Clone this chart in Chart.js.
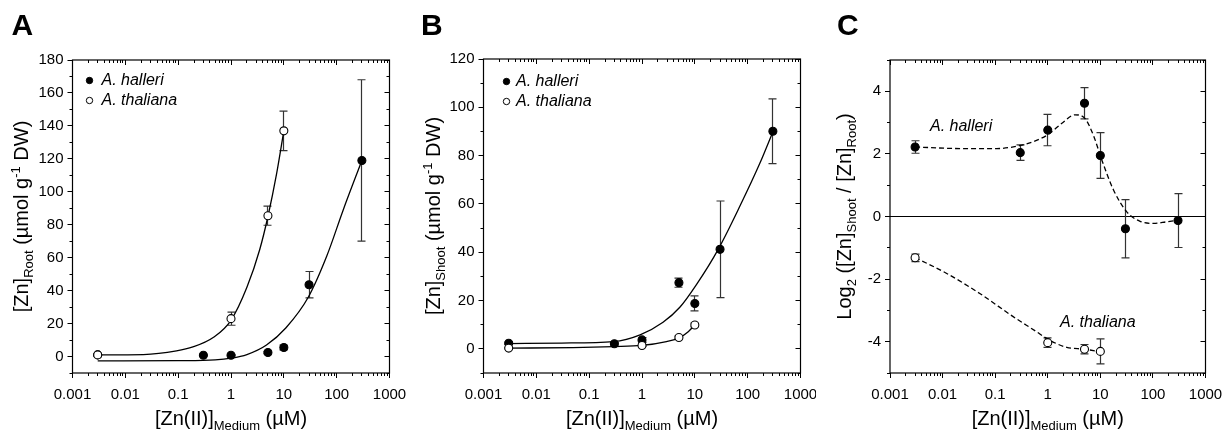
<!DOCTYPE html>
<html>
<head>
<meta charset="utf-8">
<script src="https://cdn.jsdelivr.net/npm/chart.js@4.4.1/dist/chart.umd.min.js"></script>
<style>
  html, body { margin: 0; padding: 0; background: #fff; }
  #wrap { position: relative; width: 1225px; height: 437px; overflow: hidden; }
  canvas { position: absolute; top: 0; }
</style>
</head>
<body>
<div id="wrap">
  <canvas id="chartA" width="408" height="437" style="left:0"></canvas>
  <canvas id="chartB" width="408" height="437" style="left:408px"></canvas>
  <canvas id="chartC" width="409" height="437" style="left:816px"></canvas>
</div>
<script>
// Zn concentrations in the medium (uM)
const conc = [0.003, 0.3, 1, 5, 10, 30, 300];
const concThal = [0.003, 1, 5, 10];

// A: [Zn] root
const rootHal = [1.0, 0.8, 0.8, 2.4, 5.5, 43.6, 119];
const rootHalErr = [0.3, 0.4, 0.4, 0.6, 1.5, 8, 49];
const rootThal = [1.0, 23, 85.5, 137];
const rootThalErr = [0.4, 4, 5.8, 12];
const rootHalFitX = [0.003, 0.1, 0.5, 1, 2, 4.7, 11, 29, 65, 133, 300];
const rootHalFitY = [-2.7, -2.5, -2.0, -1.0, 1.2, 7, 17.5, 36, 61, 89, 119];
const rootThalFitX = [0.003, 0.022, 0.093, 0.19, 0.46, 1, 2, 3.5, 5, 7.3, 10];
const rootThalFitY = [1, 1.2, 3.4, 5.8, 11.5, 22, 42, 65, 85, 111, 137];

// B: [Zn] shoot
const shootHal = [2.3, 2.1, 3.7, 27.4, 18.8, 41.2, 90.1];
const shootHalErr = [0.5, 0.5, 1, 1.9, 3.1, 20, 13.4];
const shootThal = [0.3, 1.4, 4.7, 9.9];
const shootThalErr = [0.3, 0.4, 0.6, 0.8];
const shootHalFitX = [0.003, 0.03, 0.29, 0.92, 2.5, 5.2, 10.8, 27.7, 71, 170, 302];
const shootHalFitY = [2.2, 2.4, 3.0, 5.8, 11, 17.2, 26.7, 41.2, 59, 76.8, 90];
const shootThalFitX = [0.003, 0.05, 0.29, 1, 2.9, 5, 7.5, 10];
const shootThalFitY = [0.3, 0.5, 0.9, 1.4, 3.0, 4.5, 7.1, 9.9];

// C: log2 shoot/root
const ratioHal = [2.22, 2.04, 2.76, 3.62, 1.95, -0.39, -0.13];
const ratioHalErr = [0.2, 0.25, 0.5, 0.5, 0.73, 0.93, 0.86];
const ratioThal = [-1.32, -4.03, -4.24, -4.31];
const ratioThalErr = [0.12, 0.15, 0.15, 0.4];
const ratioHalFitX = [0.003, 0.025, 0.107, 0.3, 0.61, 1.02, 1.83, 3.3, 5.1, 7.4, 10.7, 17.9, 31.8, 56, 102, 182, 302];
const ratioHalFitY = [2.22, 2.17, 2.17, 2.27, 2.43, 2.62, 2.97, 3.25, 3.13, 2.59, 1.80, 0.84, 0.15, -0.15, -0.22, -0.17, -0.12];
const ratioThalFitX = [0.003, 0.012, 0.051, 0.22, 0.61, 1, 2.3, 5, 10];
const ratioThalFitY = [-1.31, -1.82, -2.46, -3.20, -3.68, -3.92, -4.18, -4.24, -4.32];

// tick labels
const xMajor = [0.001, 0.01, 0.1, 1, 10, 100, 1000];
const xMajorLabels = ['0.001', '0.01', '0.1', '1', '10', '100', '1000'];
const rootTicks = [0, 20, 40, 60, 80, 100, 120, 140, 160, 180];
const shootTicks = [0, 20, 40, 60, 80, 100, 120];
const ratioTicks = [-4, -2, 0, 2, 4];

const FONT = "'Liberation Sans', Arial, Helvetica, sans-serif";

function xTickList() {
  const out = [];
  for (let d = 0; d < xMajor.length - 1; d++) {
    for (let m = 1; m <= 9; m++) {
      out.push({ value: parseFloat((m * xMajor[d]).toPrecision(6)), major: m === 1 });
    }
  }
  out.push({ value: xMajor[xMajor.length - 1], major: true });
  return out;
}

function yTickList(min, max, step, majors) {
  const out = [];
  for (let v = min; v <= max + 1e-9; v += step) {
    out.push({ value: v, major: majors.includes(v) });
  }
  return out;
}

function pointSet(label, xs, ys, errs, filled, order) {
  return {
    label: label,
    data: xs.map((x, i) => ({ x: x, y: ys[i] })),
    errors: errs,
    showLine: false,
    pointStyle: 'circle',
    pointRadius: 4,
    pointBackgroundColor: filled ? '#000' : '#fff',
    pointBorderColor: '#000',
    pointBorderWidth: 1.1,
    order: order
  };
}

function fitSet(xs, ys, dashed) {
  return {
    label: 'fit',
    data: xs.map((x, i) => ({ x: x, y: ys[i] })),
    showLine: true,
    pointRadius: 0,
    borderColor: '#000',
    borderWidth: 1.3,
    borderDash: dashed ? [5, 3] : [],
    cubicInterpolationMode: 'monotone',
    fill: false,
    order: 5
  };
}

// draw text made of normal / sub / sup parts
function richText(ctx, parts, x, y, align) {
  let w = 0;
  const segs = parts.map(([t, k]) => {
    ctx.font = (k ? '13px ' : '20px ') + FONT;
    const sw = ctx.measureText(t).width;
    w += sw;
    return { t, k, sw };
  });
  let cx = align === 'center' ? x - w / 2 : x;
  segs.forEach(s => {
    ctx.font = (s.k ? '13px ' : '20px ') + FONT;
    const dy = s.k === 'sub' ? 5 : s.k === 'sup' ? -8 : 0;
    ctx.fillText(s.t, cx, y + dy);
    cx += s.sw;
  });
}

const crisp = v => Math.round(v - 0.5) + 0.5;

const decor = {
  id: 'decor',
  beforeDatasetsDraw(chart, args, o) {
    const { ctx, chartArea: a } = chart;
    const y = chart.scales.y;
    ctx.save();
    if (o.zeroLine) {
      const py = crisp(y.getPixelForValue(0));
      ctx.strokeStyle = '#000';
      ctx.lineWidth = 1;
      ctx.beginPath();
      ctx.moveTo(a.left, py);
      ctx.lineTo(a.right, py);
      ctx.stroke();
    }
    // error bars
    ctx.strokeStyle = '#333';
    ctx.lineWidth = 1.2;
    chart.data.datasets.forEach((ds, i) => {
      if (!ds.errors) return;
      const meta = chart.getDatasetMeta(i);
      ds.data.forEach((p, j) => {
        const px = crisp(meta.data[j].x);
        const t = y.getPixelForValue(p.y + ds.errors[j]);
        const b = y.getPixelForValue(p.y - ds.errors[j]);
        ctx.beginPath();
        ctx.moveTo(px, t); ctx.lineTo(px, b);
        ctx.moveTo(px - 4, t); ctx.lineTo(px + 4, t);
        ctx.moveTo(px - 4, b); ctx.lineTo(px + 4, b);
        ctx.stroke();
      });
    });
    ctx.restore();
  },
  afterDraw(chart, args, o) {
    const { ctx, chartArea: a } = chart;
    const xs = chart.scales.x, ys = chart.scales.y;
    ctx.save();
    ctx.strokeStyle = '#000';
    ctx.lineWidth = 1;
    ctx.beginPath();
    xs.ticks.forEach(t => {
      const px = crisp(xs.getPixelForValue(t.value));
      const len = t.major ? 5 : 3;
      ctx.moveTo(px, a.bottom); ctx.lineTo(px, a.bottom + len);
      ctx.moveTo(px, a.top); ctx.lineTo(px, a.top + len);
    });
    ys.ticks.forEach(t => {
      const py = crisp(ys.getPixelForValue(t.value));
      const len = t.major ? 5 : 3;
      ctx.moveTo(a.left, py); ctx.lineTo(a.left - len, py);
      ctx.moveTo(a.right, py); ctx.lineTo(a.right - len, py);
    });
    ctx.stroke();
    ctx.lineWidth = 1.2;
    ctx.strokeRect(a.left, a.top, a.right - a.left, a.bottom - a.top);

    ctx.fillStyle = '#000';
    ctx.textAlign = 'left';
    ctx.textBaseline = 'alphabetic';

    // panel letter
    ctx.font = 'bold 30px ' + FONT;
    ctx.fillText(o.letter, o.letterX, 35);

    // axis titles
    richText(ctx, o.xTitle, (a.left + a.right) / 2, 425, 'center');
    ctx.save();
    ctx.translate(o.yTitleX, (a.top + a.bottom) / 2);
    ctx.rotate(-Math.PI / 2);
    richText(ctx, o.yTitle, 0, 0, 'center');
    ctx.restore();

    // legend
    if (o.legend) {
      const sets = chart.data.datasets.filter(ds => ds.errors);
      ctx.textBaseline = 'middle';
      ctx.font = 'italic 16px ' + FONT;
      sets.forEach((ds, i) => {
        const ly = o.legend.y + i * 20;
        ctx.beginPath();
        ctx.arc(o.legend.x, ly, 3.2, 0, Math.PI * 2);
        ctx.fillStyle = ds.pointBackgroundColor;
        ctx.fill();
        ctx.lineWidth = 1;
        ctx.strokeStyle = '#000';
        ctx.stroke();
        ctx.fillStyle = '#000';
        ctx.fillText(ds.label, o.legend.tx, ly);
      });
    }
    // in-plot labels
    if (o.notes) {
      ctx.textBaseline = 'middle';
      ctx.font = 'italic 16px ' + FONT;
      o.notes.forEach(n => ctx.fillText(n.text, n.x, n.y));
    }
    ctx.restore();
  }
};

function makeChart(id, datasets, ymin, ymax, ystep, yMajors, box, deco) {
  return new Chart(document.getElementById(id), {
    type: 'scatter',
    data: { datasets: datasets },
    options: {
      responsive: false,
      animation: false,
      events: [],
      layout: { padding: { top: box.top, right: box.right, bottom: 0, left: 0 } },
      plugins: { legend: { display: false }, tooltip: { enabled: false }, decor: deco },
      scales: {
        x: {
          type: 'logarithmic',
          min: 0.001,
          max: 1000,
          grid: { display: false, drawTicks: false },
          border: { display: false },
          afterBuildTicks: s => { s.ticks = xTickList(); },
          afterFit: s => { s.height = 437 - box.bottom; s.paddingLeft = 0; s.paddingRight = 0; },
          ticks: {
            autoSkip: false,
            maxRotation: 0,
            minRotation: 0,
            padding: 13,
            color: '#000',
            font: { family: FONT, size: 15 },
            callback: (v, i, ticks) => ticks[i].major ? xMajorLabels[xMajor.indexOf(v)] : ''
          }
        },
        y: {
          min: ymin,
          max: ymax,
          grid: { display: false, drawTicks: false },
          border: { display: false },
          afterBuildTicks: s => { s.ticks = yTickList(ymin, ymax, ystep, yMajors); },
          afterFit: s => { s.width = box.left; s.paddingTop = 0; s.paddingBottom = 0; },
          ticks: {
            autoSkip: false,
            padding: 9,
            color: '#000',
            font: { family: FONT, size: 15 },
            callback: (v, i, ticks) => ticks[i].major ? String(v) : ''
          }
        }
      }
    },
    plugins: [decor]
  });
}

const xTitle = [['[Zn(II)]', ''], ['Medium', 'sub'], [' (\u00b5M)', '']];

makeChart('chartA', [
  pointSet('A. halleri', conc, rootHal, rootHalErr, true, 1),
  pointSet('A. thaliana', concThal, rootThal, rootThalErr, false, 0),
  fitSet(rootHalFitX, rootHalFitY, false),
  fitSet(rootThalFitX, rootThalFitY, false)
], -10, 180, 10, rootTicks, { left: 72.5, right: 18.5, top: 60, bottom: 373 }, {
  letter: 'A', letterX: 11.5, yTitleX: 27.5,
  xTitle: xTitle,
  yTitle: [['[Zn]', ''], ['Root', 'sub'], [' (\u00b5mol g', ''], ['-1', 'sup'], [' DW)', '']],
  legend: { x: 89.5, y: 80.5, tx: 101.5 }
});

makeChart('chartB', [
  pointSet('A. halleri', conc, shootHal, shootHalErr, true, 1),
  pointSet('A. thaliana', concThal, shootThal, shootThalErr, false, 0),
  fitSet(shootHalFitX, shootHalFitY, false),
  fitSet(shootThalFitX, shootThalFitY, false)
], -10, 120, 10, shootTicks, { left: 75.5, right: 15.5, top: 59, bottom: 373 }, {
  letter: 'B', letterX: 13, yTitleX: 32,
  xTitle: xTitle,
  yTitle: [['[Zn]', ''], ['Shoot', 'sub'], [' (\u00b5mol g', ''], ['-1', 'sup'], [' DW)', '']],
  legend: { x: 98.5, y: 81.5, tx: 108 }
});

makeChart('chartC', [
  pointSet('A. halleri', conc, ratioHal, ratioHalErr, true, 1),
  pointSet('A. thaliana', concThal, ratioThal, ratioThalErr, false, 0),
  fitSet(ratioHalFitX, ratioHalFitY, true),
  fitSet(ratioThalFitX, ratioThalFitY, true)
], -5, 5, 1, ratioTicks, { left: 74, right: 19.5, top: 60, bottom: 373 }, {
  letter: 'C', letterX: 21, yTitleX: 35,
  xTitle: xTitle,
  yTitle: [['Log', ''], ['2', 'sub'], [' ([Zn]', ''], ['Shoot', 'sub'], [' / [Zn]', ''], ['Root', 'sub'], [')', '']],
  zeroLine: true,
  notes: [{ text: 'A. halleri', x: 114, y: 127 }, { text: 'A. thaliana', x: 244, y: 323 }]
});
</script>
</body>
</html>
